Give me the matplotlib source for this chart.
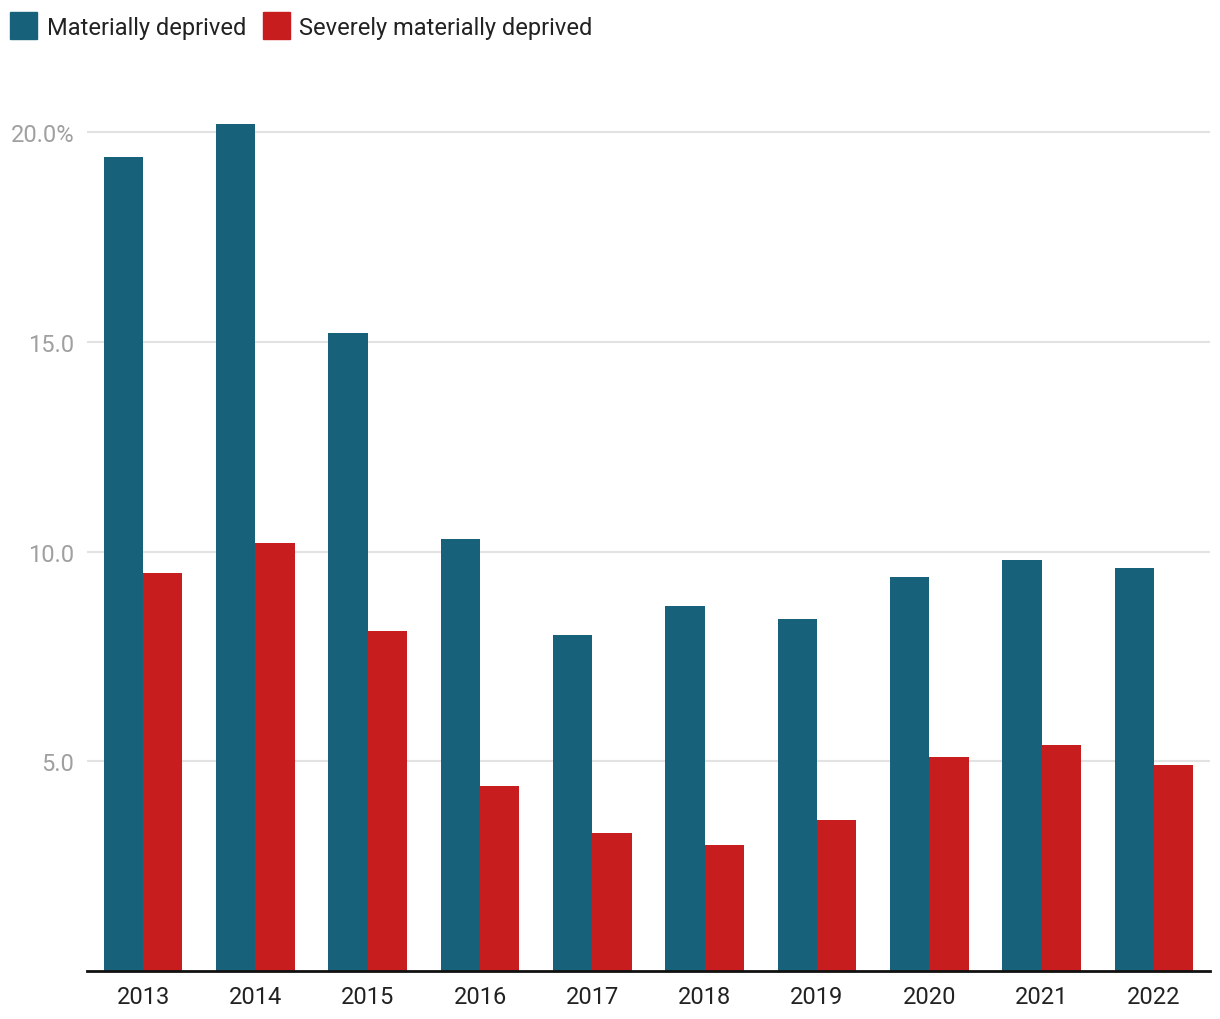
import numpy as np
import matplotlib
matplotlib.use("Agg")
import matplotlib.pyplot as plt
from matplotlib.patches import Patch

plt.rcParams['font.family'] = ['Roboto', 'DejaVu Sans']

# data
years = ["2013", "2014", "2015", "2016", "2017", "2018", "2019", "2020", "2021", "2022"]
deprived = [19.4, 20.2, 15.2, 10.3, 8.0, 8.7, 8.4, 9.4, 9.8, 9.6]
severely = [9.5, 10.2, 8.1, 4.4, 3.3, 3.0, 3.6, 5.1, 5.4, 4.9]
yticks = [5, 10, 15, 20]
ytick_labels = ["5.0", "10.0", "15.0", "20.0%"]

blue = "#17617a"
red = "#c81d1e"

fig = plt.figure(figsize=(12.2, 10.2), dpi=100)
ax = fig.add_axes([0.0713, 0.047, 0.9205, 0.8637])

x = np.arange(len(years))
w = 0.35
ax.bar(x - w / 2, deprived, width=w, color=blue, zorder=3)
ax.bar(x + w / 2, severely, width=w, color=red, zorder=3)

ax.set_xlim(-0.5, len(years) - 0.5)
ax.set_ylim(0, 21)

ax.set_yticks(yticks)
ax.set_yticklabels(ytick_labels)
ax.set_xticks(x)
ax.set_xticklabels(years)
ax.tick_params(axis="y", length=0, pad=9, labelsize=17, labelcolor="#a0a0a0")
ax.tick_params(axis="x", length=0, pad=10, labelsize=17, labelcolor="#222222")
ax.grid(axis="y", color="#e2e2e2", linewidth=1.5, zorder=0)

for s in ["top", "right", "left"]:
    ax.spines[s].set_visible(False)
ax.spines["bottom"].set_color("#111111")
ax.spines["bottom"].set_linewidth(2)
ax.spines["bottom"].set_zorder(4)

handles = [Patch(color=blue, label="Materially deprived"),
           Patch(color=red, label="Severely materially deprived")]
fig.legend(handles=handles, loc="upper left", bbox_to_anchor=(-0.009, 1.008),
           ncol=2, frameon=False, fontsize=17, handlelength=1.15, handleheight=1.4,
           handletextpad=0.4, columnspacing=0.7, labelcolor="#222222")

fig.savefig("out.png", dpi=100)
